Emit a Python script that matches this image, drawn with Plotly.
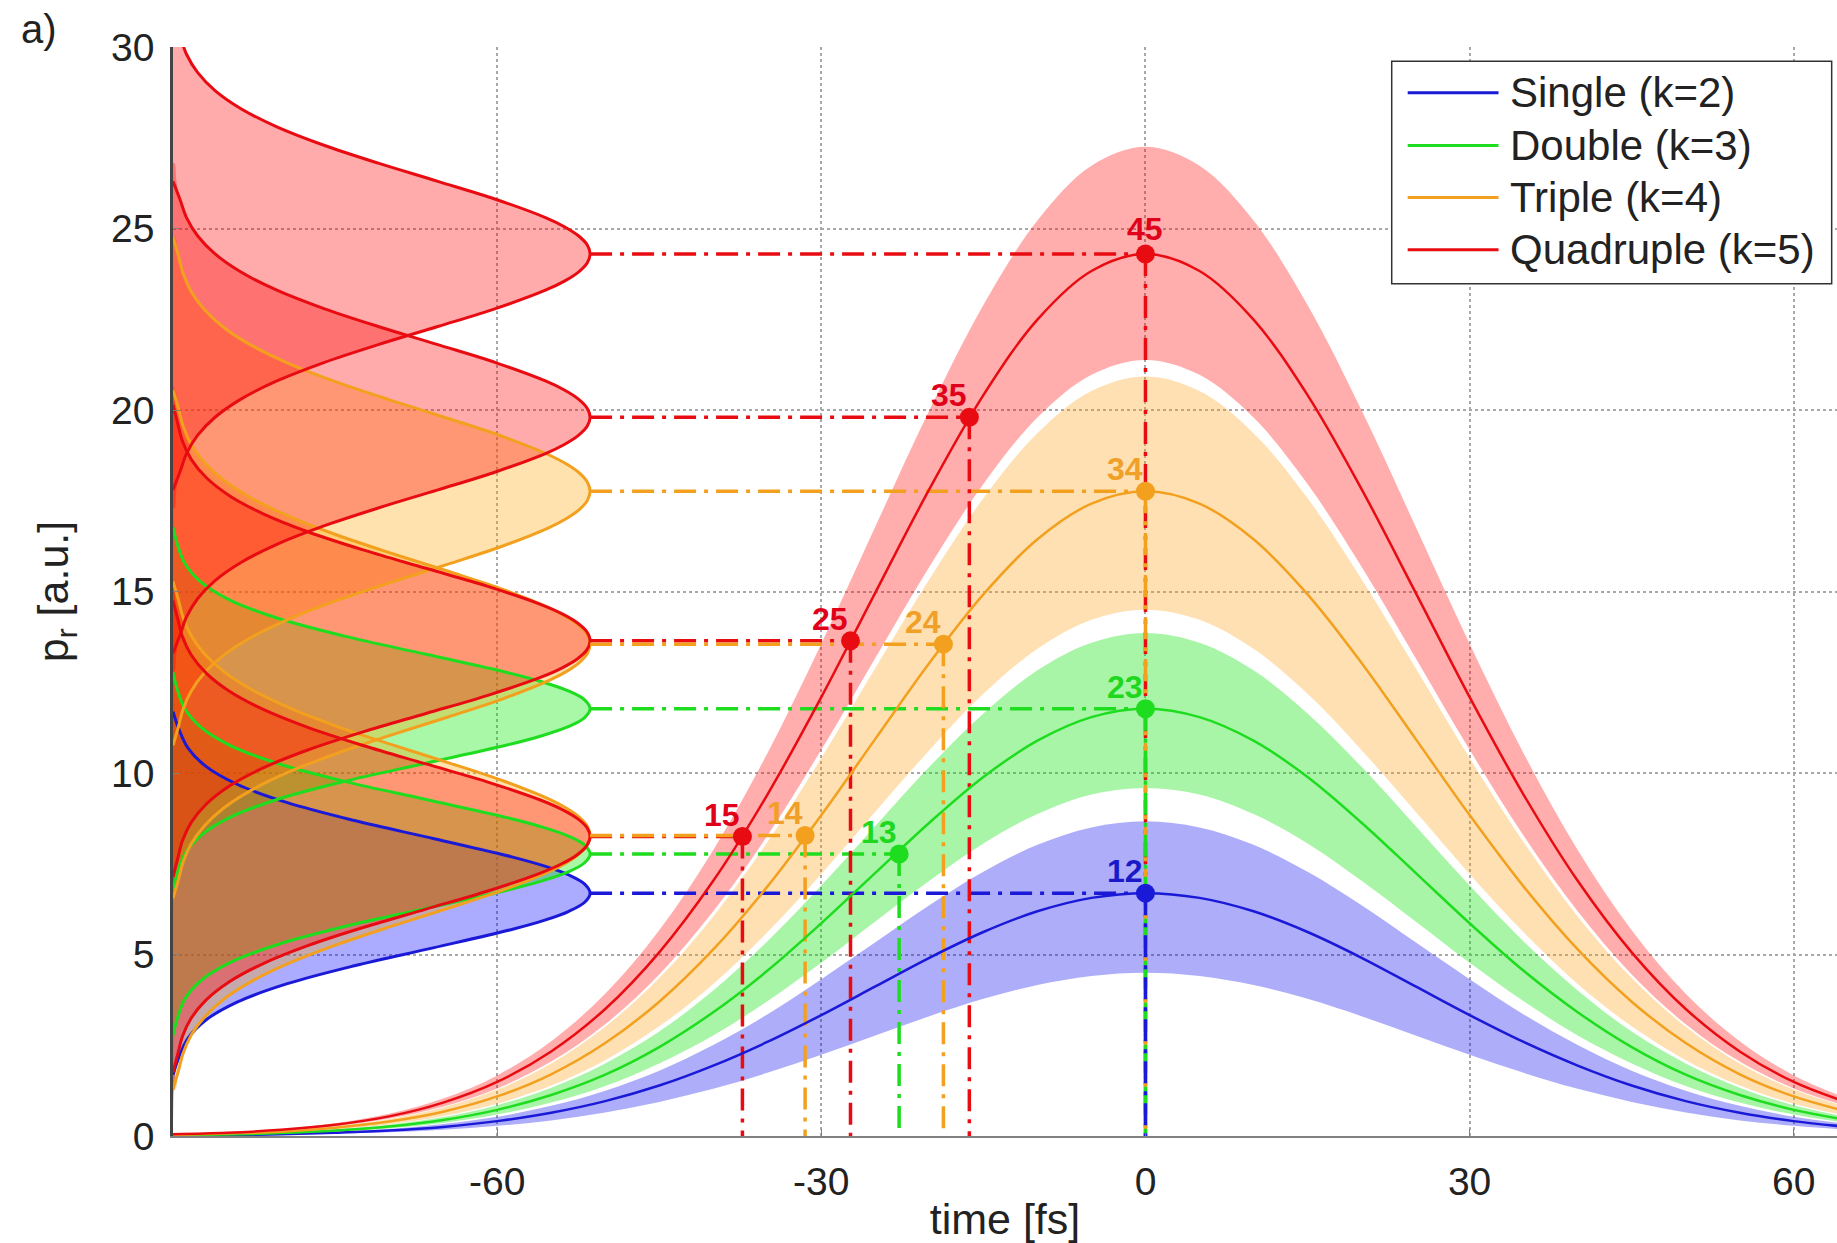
import plotly.graph_objects as go

# ---------------- data ----------------
T = [-90, -85, -80, -75, -70, -65, -60, -55, -50, -45, -40, -35, -30, -25, -20, -15, -10, -5,
     0, 5, 10, 15, 20, 25, 30, 35, 40, 45, 50, 55, 60, 65]

blue_line = [0.01, 0.02, 0.05, 0.09, 0.15, 0.25, 0.41, 0.64, 0.96, 1.39, 1.94, 2.59, 3.33, 4.12, 4.91, 5.62, 6.19, 6.56,
             6.69, 6.56, 6.19, 5.62, 4.91, 4.12, 3.33, 2.59, 1.94, 1.39, 0.96, 0.64, 0.41, 0.25]
green_line = [0.02, 0.04, 0.08, 0.15, 0.26, 0.44, 0.72, 1.13, 1.69, 2.45, 3.41, 4.55, 5.86, 7.25, 8.63, 9.89, 10.89, 11.54,
              11.77, 11.54, 10.89, 9.89, 8.63, 7.25, 5.86, 4.55, 3.41, 2.45, 1.69, 1.13, 0.72, 0.44]
orange_line = [0.03, 0.07, 0.12, 0.23, 0.40, 0.67, 1.09, 1.70, 2.56, 3.70, 5.14, 6.87, 8.84, 10.94, 13.03, 14.92, 16.44, 17.42,
               17.76, 17.42, 16.44, 14.92, 13.03, 10.94, 8.84, 6.87, 5.14, 3.70, 2.56, 1.70, 1.09, 0.67]
red_line = [0.05, 0.09, 0.17, 0.31, 0.54, 0.92, 1.49, 2.33, 3.50, 5.06, 7.03, 9.40, 12.09, 14.97, 17.82, 20.41, 22.49, 23.83,
            24.30, 23.83, 22.49, 20.41, 17.82, 14.97, 12.09, 9.40, 7.03, 5.06, 3.50, 2.33, 1.49, 0.92]

blue_upper = [0.02, 0.03, 0.06, 0.11, 0.19, 0.33, 0.53, 0.83, 1.25, 1.80, 2.51, 3.35, 4.32, 5.34, 6.36, 7.28, 8.02, 8.50,
              8.67, 8.50, 8.02, 7.28, 6.36, 5.34, 4.32, 3.35, 2.51, 1.80, 1.25, 0.83, 0.53, 0.33]
blue_lower = [0.01, 0.02, 0.03, 0.06, 0.10, 0.17, 0.28, 0.43, 0.65, 0.94, 1.30, 1.74, 2.24, 2.77, 3.30, 3.78, 4.16, 4.41,
              4.50, 4.41, 4.16, 3.78, 3.30, 2.77, 2.24, 1.74, 1.30, 0.94, 0.65, 0.43, 0.28, 0.17]
green_upper = [0.03, 0.05, 0.10, 0.18, 0.31, 0.52, 0.85, 1.33, 2.00, 2.88, 4.01, 5.36, 6.90, 8.54, 10.17, 11.64, 12.83, 13.59,
               13.86, 13.59, 12.83, 11.64, 10.17, 8.54, 6.90, 5.36, 4.01, 2.88, 2.00, 1.33, 0.85, 0.52]
green_lower = [0.02, 0.04, 0.07, 0.12, 0.21, 0.36, 0.59, 0.92, 1.38, 2.00, 2.77, 3.71, 4.77, 5.91, 7.03, 8.06, 8.87, 9.41,
               9.59, 9.41, 8.87, 8.06, 7.03, 5.91, 4.77, 3.71, 2.77, 2.00, 1.38, 0.92, 0.59, 0.36]
orange_upper = [0.04, 0.08, 0.15, 0.27, 0.47, 0.79, 1.28, 2.00, 3.01, 4.35, 6.05, 8.09, 10.41, 12.89, 15.34, 17.57, 19.36, 20.52,
                20.92, 20.52, 19.36, 17.57, 15.34, 12.89, 10.41, 8.09, 6.05, 4.35, 3.01, 2.00, 1.28, 0.79]
orange_lower = [0.03, 0.05, 0.10, 0.19, 0.32, 0.55, 0.89, 1.39, 2.09, 3.02, 4.19, 5.61, 7.22, 8.93, 10.63, 12.18, 13.42, 14.22,
                14.50, 14.22, 13.42, 12.18, 10.63, 8.93, 7.22, 5.61, 4.19, 3.02, 2.09, 1.39, 0.89, 0.55]
red_upper = [0.05, 0.10, 0.19, 0.35, 0.61, 1.03, 1.67, 2.61, 3.92, 5.67, 7.88, 10.54, 13.56, 16.79, 19.99, 22.89, 25.22, 26.73,
             27.25, 26.73, 25.22, 22.89, 19.99, 16.79, 13.56, 10.54, 7.88, 5.67, 3.92, 2.61, 1.67, 1.03]
red_lower = [0.04, 0.08, 0.15, 0.27, 0.48, 0.81, 1.31, 2.05, 3.08, 4.45, 6.19, 8.27, 10.64, 13.17, 15.68, 17.96, 19.79, 20.97,
             21.38, 20.97, 19.79, 17.96, 15.68, 13.17, 10.64, 8.27, 6.19, 4.45, 3.08, 2.05, 1.31, 0.81]

series_names = ["Single (k=2)", "Double (k=3)", "Triple (k=4)", "Quadruple (k=5)"]

# transitions (label, time of marker, p_r of marker, series index k-2)
trans_labels = ["12", "13", "14", "15", "23", "24", "25", "34", "35", "45"]
trans_t = [0.0, -22.8, -31.5, -37.3, 0.0, -18.7, -27.3, 0.0, -16.3, 0.0]
trans_p = [6.69, 7.77, 8.28, 8.25, 11.77, 13.55, 13.64, 17.76, 19.80, 24.30]
trans_series = [0, 1, 2, 3, 1, 2, 3, 2, 3, 3]

# left-hand momentum distributions: offsets from centre (a.u.) and outline position (fs)
dist_offsets = [-7.0, -6.5, -6.0, -5.5, -5.0, -4.5, -4.0, -3.5, -3.0, -2.5, -2.0, -1.5, -1.0, -0.75, -0.5, -0.25, 0.0,
                0.25, 0.5, 0.75, 1.0, 1.5, 2.0, 2.5, 3.0, 3.5, 4.0, 4.5, 5.0, 5.5, 6.0, 6.5, 7.0]
dist_12 = [-90.00, -90.00, -89.98, -89.93, -89.79, -89.43, -88.62, -86.98, -84.07, -79.49, -73.21, -65.83, -58.65, -55.66, -53.36, -51.90, -51.40,
           -51.90, -53.36, -55.66, -58.65, -65.83, -73.21, -79.49, -84.07, -86.98, -88.62, -89.43, -89.79, -89.93, -89.98, -90.00, -90.00]
dist_13 = [-90.00, -90.00, -89.99, -89.95, -89.85, -89.57, -88.90, -87.46, -84.78, -80.37, -74.13, -66.59, -59.09, -55.94, -53.48, -51.93, -51.40,
           -51.93, -53.48, -55.94, -59.09, -66.59, -74.13, -80.37, -84.78, -87.46, -88.90, -89.57, -89.85, -89.95, -89.99, -90.00, -90.00]
dist_23 = [-90.00, -90.00, -89.99, -89.95, -89.85, -89.57, -88.90, -87.46, -84.78, -80.37, -74.13, -66.59, -59.09, -55.94, -53.48, -51.93, -51.40,
           -51.93, -53.48, -55.94, -59.09, -66.59, -74.13, -80.37, -84.78, -87.46, -88.90, -89.57, -89.85, -89.95, -89.99, -90.00, -90.00]
dist_14 = [-89.76, -89.51, -89.06, -88.31, -87.08, -85.24, -82.61, -79.11, -74.77, -69.76, -64.47, -59.41, -55.19, -53.58, -52.38, -51.65, -51.40,
           -51.65, -52.38, -53.58, -55.19, -59.41, -64.47, -69.76, -74.77, -79.11, -82.61, -85.24, -87.08, -88.31, -89.06, -89.51, -89.76]
dist_24 = [-89.76, -89.51, -89.06, -88.31, -87.08, -85.24, -82.61, -79.11, -74.77, -69.76, -64.47, -59.41, -55.19, -53.58, -52.38, -51.65, -51.40,
           -51.65, -52.38, -53.58, -55.19, -59.41, -64.47, -69.76, -74.77, -79.11, -82.61, -85.24, -87.08, -88.31, -89.06, -89.51, -89.76]
dist_34 = [-89.76, -89.51, -89.06, -88.31, -87.08, -85.24, -82.61, -79.11, -74.77, -69.76, -64.47, -59.41, -55.19, -53.58, -52.38, -51.65, -51.40,
           -51.65, -52.38, -53.58, -55.19, -59.41, -64.47, -69.76, -74.77, -79.11, -82.61, -85.24, -87.08, -88.31, -89.06, -89.51, -89.76]
dist_15 = [-89.92, -89.80, -89.57, -89.12, -88.31, -86.93, -84.78, -81.65, -77.47, -72.33, -66.59, -60.86, -55.94, -54.02, -52.59, -51.70, -51.40,
           -51.70, -52.59, -54.02, -55.94, -60.86, -66.59, -72.33, -77.47, -81.65, -84.78, -86.93, -88.31, -89.12, -89.57, -89.80, -89.92]
dist_25 = [-89.92, -89.80, -89.57, -89.12, -88.31, -86.93, -84.78, -81.65, -77.47, -72.33, -66.59, -60.86, -55.94, -54.02, -52.59, -51.70, -51.40,
           -51.70, -52.59, -54.02, -55.94, -60.86, -66.59, -72.33, -77.47, -81.65, -84.78, -86.93, -88.31, -89.12, -89.57, -89.80, -89.92]
dist_35 = [-89.85, -89.68, -89.35, -88.75, -87.73, -86.11, -83.71, -80.39, -76.10, -71.01, -65.49, -60.09, -55.53, -53.78, -52.48, -51.67, -51.40,
           -51.67, -52.48, -53.78, -55.53, -60.09, -65.49, -71.01, -76.10, -80.39, -83.71, -86.11, -87.73, -88.75, -89.35, -89.68, -89.85]
dist_45 = [-89.85, -89.68, -89.35, -88.75, -87.73, -86.11, -83.71, -80.39, -76.10, -71.01, -65.49, -60.09, -55.53, -53.78, -52.48, -51.67, -51.40,
           -51.67, -52.48, -53.78, -55.53, -60.09, -65.49, -71.01, -76.10, -80.39, -83.71, -86.11, -87.73, -88.75, -89.35, -89.68, -89.85]
dist_peak_t = -51.4
dist_base_t = -90.0

x_ticks = [-60, -30, 0, 30, 60]
y_ticks = [0, 5, 10, 15, 20, 25, 30]

# ---------------- styling ----------------
line_colors = ["rgb(25,25,215)", "rgb(30,220,30)", "rgb(242,160,30)", "rgb(232,12,18)"]
band_fills = ["rgba(0,0,235,0.32)", "rgba(0,225,0,0.34)", "rgba(255,160,20,0.32)", "rgba(255,0,0,0.32)"]
dist_fills = ["rgba(0,0,255,0.33)", "rgba(0,235,0,0.34)", "rgba(255,165,0,0.32)", "rgba(255,0,0,0.33)"]
label_colors = ["rgb(25,25,200)", "rgb(30,215,30)", "rgb(240,160,40)", "rgb(225,0,25)"]
FONT = "Arial, 'Liberation Sans', Helvetica, sans-serif"

lines = [blue_line, green_line, orange_line, red_line]
uppers = [blue_upper, green_upper, orange_upper, red_upper]
lowers = [blue_lower, green_lower, orange_lower, red_lower]
dists = {"12": dist_12, "13": dist_13, "14": dist_14, "15": dist_15, "23": dist_23,
         "24": dist_24, "25": dist_25, "34": dist_34, "35": dist_35, "45": dist_45}

fig = go.Figure()

# bands
for i in range(4):
    fig.add_trace(go.Scatter(x=T, y=lowers[i], mode="lines", line=dict(width=0, shape="spline"),
                             showlegend=False, hoverinfo="skip"))
    fig.add_trace(go.Scatter(x=T, y=uppers[i], mode="lines", line=dict(width=0, shape="spline"),
                             fill="tonexty", fillcolor=band_fills[i], showlegend=False, hoverinfo="skip"))

# left distributions: blue first, red last
order = sorted(range(len(trans_labels)), key=lambda j: (trans_series[j], trans_p[j]))
for j in order:
    lab = trans_labels[j]
    k = trans_series[j]
    ext = dists[lab]
    ys = [trans_p[j] + o for o in dist_offsets]
    fig.add_trace(go.Scatter(x=[dist_base_t] + ext + [dist_base_t], y=[ys[0]] + ys + [ys[-1]], mode="lines",
                             fill="toself", fillcolor=dist_fills[k],
                             line=dict(width=0, shape="spline"),
                             showlegend=False, hoverinfo="skip"))
for j in order:
    lab = trans_labels[j]
    k = trans_series[j]
    ext = dists[lab]
    ys = [trans_p[j] + o for o in dist_offsets]
    keep = [i for i, v in enumerate(ext) if v > -89.6]
    i0, i1 = keep[0], keep[-1]
    ox = [dist_base_t] + [ext[i] for i in keep] + [dist_base_t]
    oy = [ys[max(i0 - 1, 0)]] + [ys[i] for i in keep] + [ys[min(i1 + 1, len(ys) - 1)]]
    fig.add_trace(go.Scatter(x=ox, y=oy, mode="lines",
                             line=dict(color=line_colors[k], width=3, shape="spline"),
                             showlegend=False, hoverinfo="skip"))

# dash-dot guide lines (red drawn first so lower series sit on top)
DASH = "22px,8px,4px,8px"
vorder = sorted(range(len(trans_labels)), key=lambda j: (-trans_series[j], -trans_p[j]))
for j in vorder:
    k = trans_series[j]
    fig.add_trace(go.Scatter(x=[dist_peak_t, trans_t[j]], y=[trans_p[j], trans_p[j]], mode="lines",
                             line=dict(color=line_colors[k], width=3.5, dash=DASH),
                             showlegend=False, hoverinfo="skip"))
for j in vorder:
    k = trans_series[j]
    fig.add_trace(go.Scatter(x=[trans_t[j], trans_t[j]], y=[trans_p[j], 0], mode="lines",
                             line=dict(color=line_colors[k], width=3.5, dash=DASH),
                             showlegend=False, hoverinfo="skip"))

# main curves
for i in range(4):
    fig.add_trace(go.Scatter(x=T, y=lines[i], mode="lines", name=series_names[i],
                             line=dict(color=line_colors[i], width=2.5, shape="spline"),
                             showlegend=False))

# markers
fig.add_trace(go.Scatter(x=trans_t, y=trans_p, mode="markers",
                         marker=dict(size=19, color=[line_colors[k] for k in trans_series]),
                         showlegend=False, hoverinfo="skip"))

annotations = []
for j, lab in enumerate(trans_labels):
    k = trans_series[j]
    if lab == "45":
        xs_, ys_ = 0, 25
    else:
        xs_, ys_ = -20, 22
    annotations.append(dict(x=trans_t[j], y=trans_p[j], xref="x", yref="y", text="<b>%s</b>" % lab,
                            showarrow=False, xshift=xs_, yshift=ys_,
                            font=dict(family=FONT, size=32, color=label_colors[k])))

# custom legend
shapes = [dict(type="rect", xref="paper", yref="paper", x0=0.7324, x1=0.9968, y0=0.7826, y1=0.9869,
               line=dict(color="#333333", width=1.5), fillcolor="white", layer="above")]
leg_y = [0.9579, 0.9096, 0.8617, 0.8138]
for i in range(4):
    shapes.append(dict(type="line", xref="paper", yref="paper", x0=0.7420, x1=0.7966, y0=leg_y[i], y1=leg_y[i],
                       line=dict(color=line_colors[i], width=3), layer="above"))
    annotations.append(dict(x=0.8025, y=leg_y[i], xref="paper", yref="paper", text=series_names[i],
                            xanchor="left", yanchor="middle", showarrow=False,
                            font=dict(family=FONT, size=42, color="#222222")))

# panel label
annotations.append(dict(x=-0.0807, y=1.0165, xref="paper", yref="paper", text="a)", showarrow=False,
                        xanchor="center", yanchor="middle", font=dict(family=FONT, size=40, color="#222222")))

fig.update_layout(
    width=1837, height=1243,
    margin=dict(l=173, r=0, t=47, b=107),
    plot_bgcolor="white", paper_bgcolor="white",
    showlegend=False,
    font=dict(family=FONT, color="#222222"),
    shapes=shapes, annotations=annotations,
    xaxis=dict(range=[-90, 64], tickvals=x_ticks, ticktext=[str(v) for v in x_ticks],
               showgrid=True, gridcolor="#a8a8a8", griddash="dot", gridwidth=1.5, zeroline=False,
               showline=True, linecolor="#808080", linewidth=2, ticks="inside", ticklen=7, tickcolor="#808080",
               tickfont=dict(family=FONT, size=39, color="#222222"), ticklabelstandoff=10,
               title=dict(text="time [fs]", font=dict(family=FONT, size=43, color="#222222"), standoff=8)),
    yaxis=dict(range=[0, 30], tickvals=y_ticks, ticktext=[str(v) for v in y_ticks],
               showgrid=True, gridcolor="#a8a8a8", griddash="dot", gridwidth=1.5, zeroline=False,
               showline=True, linecolor="#444444", linewidth=2.5, ticks="inside", ticklen=7, tickcolor="#808080",
               tickfont=dict(family=FONT, size=39, color="#222222"), ticklabelstandoff=8,
               title=dict(text="p<sub>r</sub> [a.u.]", font=dict(family=FONT, size=43, color="#222222"), standoff=30)),
)

fig.write_html("out.html")
